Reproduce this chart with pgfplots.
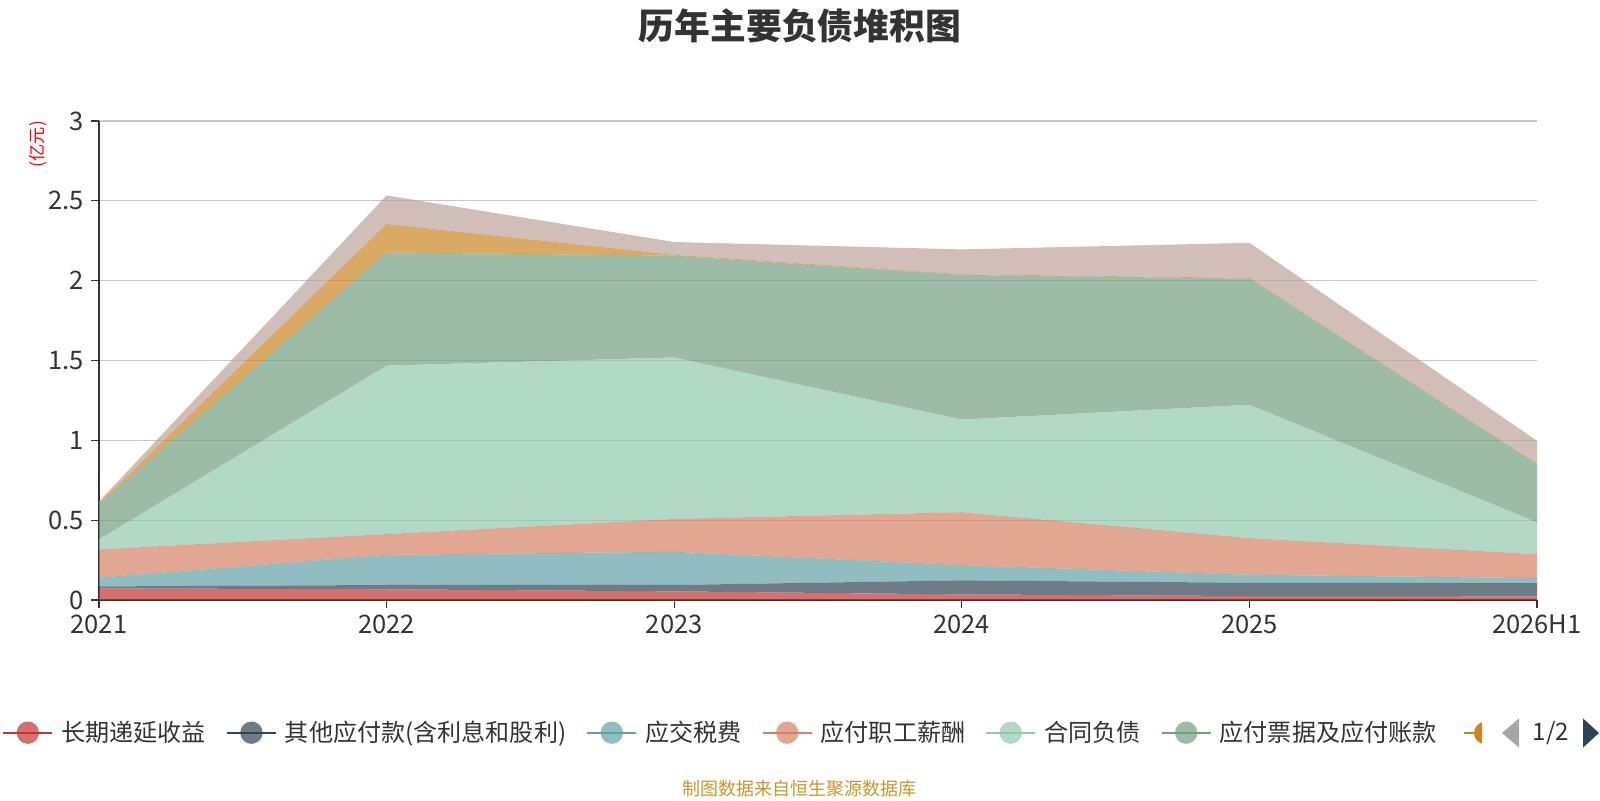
\documentclass[border=0pt]{standalone}
\usepackage{pgfplots}
\pgfplotsset{compat=1.18}
\usepackage{fontspec}
\setmainfont{Noto Sans CJK SC}
\definecolor{c1}{HTML}{C23531}
\definecolor{c2}{HTML}{2F4554}
\definecolor{c3}{HTML}{61A0A8}
\definecolor{c4}{HTML}{D48265}
\definecolor{c5}{HTML}{91C7AE}
\definecolor{c6}{HTML}{749F83}
\definecolor{c7}{HTML}{CA8622}
\definecolor{c8}{HTML}{BDA29A}
\definecolor{txt}{HTML}{333333}
\definecolor{foot}{HTML}{C8962A}
\pgfplotsset{myleg/.style={legend image code/.code={\draw[line width=1pt,#1](0pt,0pt)--(24.5pt,0pt);\fill[#1](12.25pt,0pt) circle (5.6pt);}}}
\begin{document}
\begin{tikzpicture}
\begin{axis}[
  at={(49.5pt,100pt)}, anchor=south west,
  scale only axis, width=719pt, height=239.5pt,
  xmin=0, xmax=5, ymin=0, ymax=3,
  stack plots=y,
  axis lines=left, axis line style={-, color=txt, line width=0.6pt},
  xtick={0,1,2,3,4,5},
  xticklabels={2021,2022,2023,2024,2025,2026H1},
  ytick={0,0.5,1,1.5,2,2.5,3},
  yticklabels={0,0.5,1,1.5,2,2.5,3},
  tick align=outside, major tick length=4pt,
  tick style={color=txt, line width=0.6pt},
  ymajorgrids, grid style={color=black!22, line width=0.6pt},
  tick label style={font=\fontsize{12.75pt}{14pt}\selectfont, color=txt},
  /pgf/number format/assume math mode=true,
  ylabel={(亿元)},
  every axis y label/.style={at={(axis description cs:-0.0426,0.952)}, rotate=90, anchor=center, font=\fontsize{8.6pt}{9pt}\selectfont, color=red},
  legend columns=-1,
  legend style={at={(axis description cs:-0.0675,-0.277)}, anchor=west, draw=none, fill=none, inner sep=0pt,
    font=\fontsize{12.05pt}{14pt}\selectfont, text=txt,
    nodes={inner xsep=4pt},
    /tikz/every even column/.append style={column sep=6pt}},
  clip=false,
]
\addplot[fill=c1, fill opacity=0.7, draw=none, myleg=c1] coordinates {(0,0.073) (1,0.067) (2,0.054) (3,0.035) (4,0.025) (5,0.023)} \closedcycle;
\addplot[fill=c2, fill opacity=0.7, draw=none, myleg=c2] coordinates {(0,0.012) (1,0.027) (2,0.040) (3,0.088) (4,0.083) (5,0.083)} \closedcycle;
\addplot[fill=c3, fill opacity=0.7, draw=none, myleg=c3] coordinates {(0,0.055) (1,0.189) (2,0.208) (3,0.096) (4,0.050) (5,0.031)} \closedcycle;
\addplot[fill=c4, fill opacity=0.7, draw=none, myleg=c4] coordinates {(0,0.177) (1,0.130) (2,0.206) (3,0.331) (4,0.230) (5,0.150)} \closedcycle;
\addplot[fill=c5, fill opacity=0.7, draw=none, myleg=c5] coordinates {(0,0.063) (1,1.055) (2,1.011) (3,0.580) (4,0.835) (5,0.200)} \closedcycle;
\addplot[fill=c6, fill opacity=0.7, draw=none, myleg=c6] coordinates {(0,0.218) (1,0.709) (2,0.638) (3,0.906) (4,0.790) (5,0.362)} \closedcycle;
\addplot[fill=c7, fill opacity=0.7, draw=none, myleg=c7] coordinates {(0,0.007) (1,0.178) (2,0.005) (3,0.004) (4,0.004) (5,0.003)} \closedcycle;
\addplot[fill=c8, fill opacity=0.7, draw=none, myleg=c8] coordinates {(0,0.012) (1,0.179) (2,0.080) (3,0.156) (4,0.220) (5,0.145)} \closedcycle;
\legend{长期递延收益,其他应付款(含利息和股利),应交税费,应付职工薪酬,合同负债,应付票据及应付账款}
\end{axis}
\node[font=\bfseries\fontsize{17.9pt}{20pt}\selectfont, text=txt] at (400pt,387.25pt) {历年主要负债堆积图};
% partially hidden 7th legend item and pager
\begin{scope}
\clip (730pt,22pt) rectangle (741pt,45pt);
\draw[c7, line width=1pt] (732pt,33.5pt) -- (756pt,33.5pt);
\fill[c7] (742.6pt,33.5pt) circle (5.6pt);
\end{scope}
\fill[black!35] (751pt,33.5pt) -- (759.5pt,40.8pt) -- (759.5pt,26.2pt) -- cycle;
\node[font=\fontsize{12.05pt}{14pt}\selectfont, text=txt] at (775.5pt,33.5pt) {1/2};
\fill[c2] (799.5pt,33.5pt) -- (791.5pt,40.8pt) -- (791.5pt,26.2pt) -- cycle;
\node[font=\fontsize{9pt}{10pt}\selectfont, text=foot] at (399.5pt,5.8pt) {制图数据来自恒生聚源数据库};
\pgfresetboundingbox
\useasboundingbox (0,0) rectangle (800pt,400pt);
\end{tikzpicture}
\end{document}
